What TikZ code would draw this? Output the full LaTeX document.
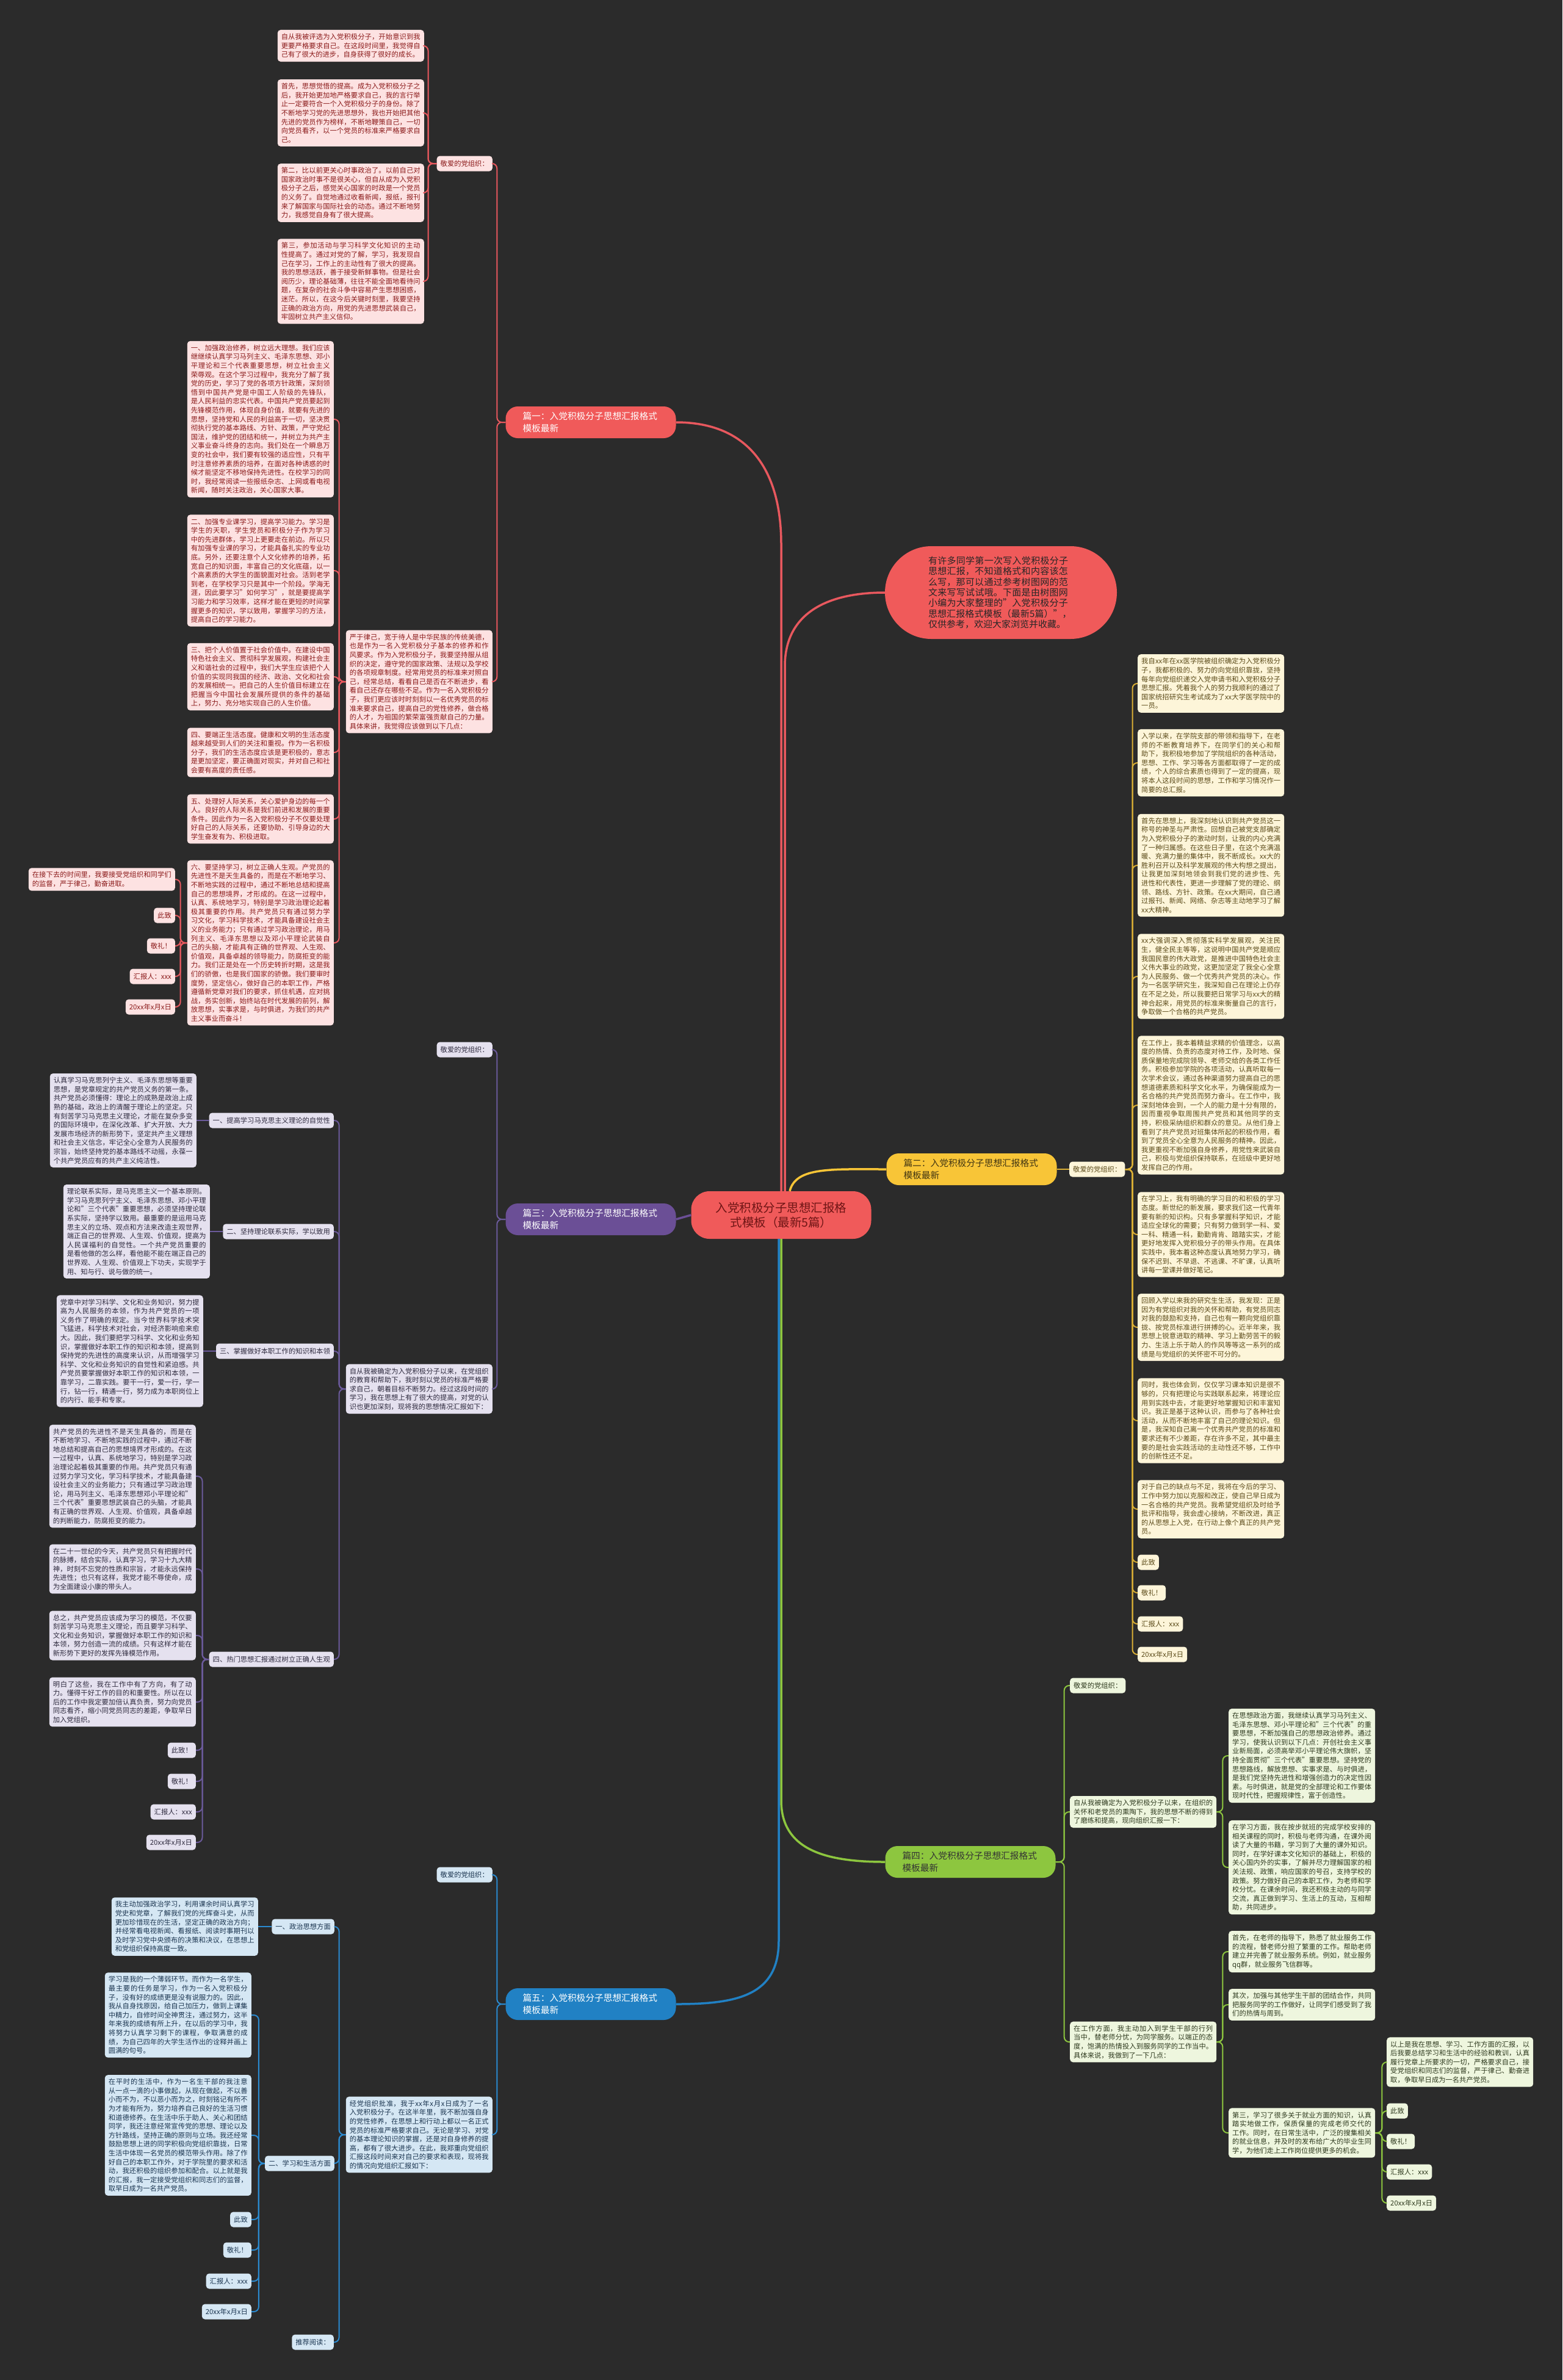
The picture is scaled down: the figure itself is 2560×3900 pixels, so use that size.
\documentclass[tikz,border=0pt]{standalone}
\usepackage{fontspec}
\setmainfont{Noto Sans CJK SC}
\usetikzlibrary{positioning}
\XeTeXlinebreaklocale "zh"
\XeTeXlinebreakskip = 0pt plus 1pt

\definecolor{bg}{HTML}{2B2B2B}
\definecolor{m1}{HTML}{F05A5A}\definecolor{f1}{HTML}{FDE2E2}\definecolor{t1}{HTML}{8B1A1A}\definecolor{l1}{HTML}{E8585E}
\definecolor{m2}{HTML}{F8C537}\definecolor{f2}{HTML}{FDF5D9}\definecolor{t2}{HTML}{5C4B1A}\definecolor{l2}{HTML}{D9AE35}
\definecolor{m3}{HTML}{6B4F96}\definecolor{f3}{HTML}{E5E1EF}\definecolor{t3}{HTML}{2E2A3E}\definecolor{l3}{HTML}{6B5A9B}
\definecolor{m4}{HTML}{8DC63F}\definecolor{f4}{HTML}{EEF6DE}\definecolor{t4}{HTML}{2F3A1F}\definecolor{l4}{HTML}{8DC63F}
\definecolor{m5}{HTML}{2181C4}\definecolor{f5}{HTML}{D5E7F4}\definecolor{t5}{HTML}{1B3550}\definecolor{l5}{HTML}{2A8AD0}

\newcommand\boxfont{\fontsize{11.3}{14.6}\selectfont}
\newcommand\branchfont{\fontsize{14.7}{19.5}\selectfont}
\newcommand\rootfont{\fontsize{19.5}{24.5}\selectfont}
\newcommand\introfont{\fontsize{15}{17.4}\selectfont}

\tikzset{
  textbox/.style={font=\boxfont, text width=228pt, align=justify, inner xsep=6pt, inner ysep=6pt, rounded corners=5pt},
  tag/.style={font=\boxfont, inner xsep=6pt, inner ysep=2pt, minimum height=25pt, rounded corners=5pt},
  branch/.style={font=\branchfont, text width=223pt, align=left, inner xsep=28pt, minimum height=52pt, rounded corners=20pt},
  box1/.style={textbox, fill=f1, text=t1}, tag1/.style={tag, fill=f1, text=t1},
  box2/.style={textbox, fill=f2, text=t2}, tag2/.style={tag, fill=f2, text=t2},
  box3/.style={textbox, fill=f3, text=t3}, tag3/.style={tag, fill=f3, text=t3},
  box4/.style={textbox, fill=f4, text=t4}, tag4/.style={tag, fill=f4, text=t4},
  box5/.style={textbox, fill=f5, text=t5}, tag5/.style={tag, fill=f5, text=t5},
  sub/.style={line width=2pt, rounded corners=8pt},
  main/.style={line width=3.5pt}
}

\begin{document}
\begin{tikzpicture}[x=1pt, y=-1pt]
    \fill[bg] (0,0) rectangle (2560,3900);
    \useasboundingbox (0,0) rectangle (2560,3900);

    % centre and intro
    \node[font=\rootfont, fill=m1, text=t1!80!black, align=center, minimum width=295pt, minimum height=78pt, rounded corners=30pt] (root) at (1280,1991)
        {入党积极分子思想汇报格\\式模板（最新5篇）};
    \node[font=\introfont, fill=m1, text=black!85, text width=238pt, align=left, inner xsep=71pt, minimum height=152pt, rounded corners=76pt] (intro) at (1640,971)
        {有许多同学第一次写入党积极分子思想汇报，不知道格式和内容该怎么写，那可以通过参考树图网的范文来写写试试哦。下面是由树图网小编为大家整理的"入党积极分子思想汇报格式模板（最新5篇）"，仅供参考，欢迎大家浏览并收藏。};

    \node[branch, fill=m1, text=white] (p1) at (968,692) {篇一：入党积极分子思想汇报格式\\模板最新};
    \node[branch, fill=m2, text=t2!70!black] (p2) at (1592,1916) {篇二：入党积极分子思想汇报格式\\模板最新};
    \node[branch, fill=m3, text=white] (p3) at (968,1998) {篇三：入党积极分子思想汇报格式\\模板最新};
    \node[branch, fill=m4, text=black!80] (p4) at (1590,3051) {篇四：入党积极分子思想汇报格式\\模板最新};
    \node[branch, fill=m5, text=white] (p5) at (968,3284) {篇五：入党积极分子思想汇报格式\\模板最新};

    \draw[main, l1] (root.north) -- ++(0,-1060) .. controls +(0,-120) and +(120,0) .. (p1.east);
    \draw[main, l1] ([xshift=6pt]root.north) -- ++(0,-860) .. controls +(0,-90) and +(-90,0) .. (intro.west);
    \draw[main, m2] ([xshift=14pt]root.north) .. controls +(10,-40) and +(-90,0) .. (p2.west);
    \draw[main, m3] (root.west) -- (p3.east);
    \draw[main, m4] (root.south) -- ++(0,920) .. controls +(0,80) and +(-100,0) .. (p4.west);
    \draw[main, m5] ([xshift=-4pt]root.south) -- ++(0,1150) .. controls +(0,90) and +(100,0) .. (p5.east);

    % 篇一
    \node[tag1, anchor=east] (d1) at (807,268) {敬爱的党组织：};
    \node[box1, anchor=east] (a1) at (695,75) {自从我被评选为入党积极分子，开始意识到我更要严格要求自己。在这段时间里，我觉得自己有了很大的进步，自身获得了很好的成长。};
    \node[box1, anchor=east] (a2) at (695,185) {首先，思想觉悟的提高。成为入党积极分子之后，我开始更加地严格要求自己，我的言行举止一定要符合一个入党积极分子的身份。除了不断地学习党的先进思想外，我也开始把其他先进的党员作为榜样，不断地鞭策自己，一切向党员看齐，以一个党员的标准来严格要求自己。};
    \node[box1, anchor=east] (a3) at (695,316) {第二，比以前更关心时事政治了。以前自己对国家政治时事不是很关心，但自从成为入党积极分子之后，感觉关心国家的时政是一个党员的义务了。自觉地通过收看新闻，报纸，报刊来了解国家与国际社会的动态。通过不断地努力，我感觉自身有了很大提高。};
    \node[box1, anchor=east] (a4) at (695,461) {第三，参加活动与学习科学文化知识的主动性提高了。通过对党的了解，学习，我发现自己在学习，工作上的主动性有了很大的提高。我的思想活跃，善于接受新鲜事物。但是社会阅历少，理论基础薄，往往不能全面地看待问题，在复杂的社会斗争中容易产生思想困惑，迷茫。所以，在这今后关键时刻里，我要坚持正确的政治方向，用党的先进思想武装自己，牢固树立共产主义信仰。};
    \node[box1, anchor=east] (g1) at (807,1117) {严于律己，宽于待人是中华民族的传统美德，也是作为一名入党积极分子基本的修养和作风要求。作为入党积极分子，我要坚持服从组织的决定，遵守党的国家政策、法规以及学校的各项规章制度。经常用党员的标准来对照自己，经常总结，看看自己是否在不断进步，看看自己还存在哪些不足。作为一名入党积极分子，我们更应该时时刻刻以一名优秀党员的标准来要求自己，提高自己的党性修养，做合格的人才，为祖国的繁荣富强贡献自己的力量。具体来讲，我觉得应该做到以下几点：};
    \node[box1, anchor=east] (s1) at (547,687) {一、加强政治修养，树立远大理想。我们应该继继续认真学习马列主义、毛泽东思想、邓小平理论和三个代表重要思想，树立社会主义荣辱观。在这个学习过程中，我充分了解了我党的历史，学习了党的各项方针政策，深刻领悟到中国共产党是中国工人阶级的先锋队，是人民利益的忠实代表。中国共产党员要起到先锋模范作用，体现自身价值，就要有先进的思想，坚持党和人民的利益高于一切，坚决贯彻执行党的基本路线、方针、政策，严守党纪国法，维护党的团结和统一，并树立为共产主义事业奋斗终身的志向。我们处在一个瞬息万变的社会中，我们要有较强的适应性，只有平时注意修养素质的培养，在面对各种诱惑的时候才能坚定不移地保持先进性。在校学习的同时，我经常阅读一些报纸杂志、上网或看电视新闻，随时关注政治，关心国家大事。};
    \node[box1, anchor=east] (s2) at (547,935) {二、加强专业课学习，提高学习能力。学习是学生的天职，学生党员和积极分子作为学习中的先进群体，学习上更要走在前边。所以只有加强专业课的学习，才能具备扎实的专业功底。另外，还要注意个人文化修养的培养，拓宽自己的知识面，丰富自己的文化底蕴，以一个高素质的大学生的面貌面对社会。活到老学到老，在学校学习只是其中一个阶段。学海无涯，因此要学习"如何学习"，就是要提高学习能力和学习效率，这样才能在更短的时间掌握更多的知识，学以致用，掌握学习的方法，提高自己的学习能力。};
    \node[box1, anchor=east] (s3) at (547,1109) {三、把个人价值置于社会价值中。在建设中国特色社会主义、贯彻科学发展观，构建社会主义和谐社会的过程中，我们大学生应该把个人价值的实现同我国的经济、政治、文化和社会的发展相统一。把自己的人生价值目标建立在把握当今中国社会发展所提供的条件的基础上，努力、充分地实现自己的人生价值。};
    \node[box1, anchor=east] (s4) at (547,1233) {四、要端正生活态度。健康和文明的生活态度越来越受到人们的关注和重视。作为一名积极分子，我们的生活态度应该是更积极的，意志是更加坚定，要正确面对现实，并对自己和社会要有高度的责任感。};
    \node[box1, anchor=east] (s5) at (547,1342) {五、处理好人际关系，关心爱护身边的每一个人。良好的人际关系是我们前进和发展的重要条件。因此作为一名入党积极分子不仅要处理好自己的人际关系，还要协助、引导身边的大学生奋发有为、积极进取。};
    \node[box1, anchor=east] (s6) at (547,1545) {六、要坚持学习，树立正确人生观。产党员的先进性不是天生具备的，而是在不断地学习、不断地实践的过程中，通过不断地总结和提高自己的思想境界，才形成的。在这一过程中，认真、系统地学习，特别是学习政治理论起着极其重要的作用。共产党员只有通过努力学习文化，学习科学技术，才能具备建设社会主义的业务能力；只有通过学习政治理论，用马列主义、毛泽东思想以及邓小平理论武装自己的头脑，才能具有正确的世界观、人生观、价值观，具备卓越的领导能力，防腐拒变的能力。我们正是处在一个历史转折时期，这是我们的骄傲，也是我们国家的骄傲。我们要审时度势，坚定信心，做好自己的本职工作，严格遵循新党章对我们的要求，抓住机遇，应对挑战，务实创新，始终站在时代发展的前列，解放思想，实事求是，与时俱进，为我们的共产主义事业而奋斗！};
    \node[box1, anchor=east] (e1) at (287,1441) {在接下去的时间里，我要接受党组织和同学们的监督，严于律己，勤奋进取。};
    \node[tag1, anchor=east] (e2) at (287,1500) {此致};
    \node[tag1, anchor=east] (e3) at (287,1550) {敬礼！};
    \node[tag1, anchor=east] (e4) at (287,1600) {汇报人：xxx};
    \node[tag1, anchor=east] (e5) at (287,1650) {20xx年x月x日};

    \foreach \n in {d1,g1} \draw[sub, l1] (p1.west) -- ++(-14,0) |- (\n.east);
    \foreach \n in {a1,a2,a3,a4} \draw[sub, l1] (d1.west) -- ++(-14,0) |- (\n.east);
    \foreach \n in {s1,s2,s3,s4,s5,s6} \draw[sub, l1] (g1.west) -- ++(-11,0) |- (\n.east);
    \foreach \n in {e1,e2,e3,e4,e5} \draw[sub, l1] (s6.west) -- ++(-11,0) |- (\n.east);

    % 篇二
    \node[tag2, anchor=west] (d2) at (1752,1916) {敬爱的党组织：};
    \node[box2, anchor=west] (b1) at (1864,1120) {我自xx年在xx医学院被组织确定为入党积极分子，我都积极的、努力的向党组织靠拢，坚持每年向党组织递交入党申请书和入党积极分子思想汇报。凭着我个人的努力我顺利的通过了国家统招研究生考试成为了xx大学医学院中的一员。};
    \node[box2, anchor=west] (b2) at (1864,1250) {入学以来，在学院支部的带领和指导下，在老师的不断教育培养下，在同学们的关心和帮助下，我积极地参加了学院组织的各种活动，思想、工作、学习等各方面都取得了一定的成绩，个人的综合素质也得到了一定的提高，现将本人这段时间的思想，工作和学习情况作一简要的总汇报。};
    \node[box2, anchor=west] (b3) at (1864,1418) {首先在思想上，我深刻地认识到共产党员这一称号的神圣与严肃性。回想自己被党支部确定为入党积极分子的激动时刻，让我的内心充满了一种归属感。在这些日子里，在这个充满温暖、充满力量的集体中，我不断成长。xx大的胜利召开以及科学发展观的伟大构想之提出，让我更加深刻地领会到我们党的进步性、先进性和代表性，更进一步理解了党的理论、纲领、路线、方针、政策。在xx大期间，自己通过报刊、新闻、网络、杂志等主动地学习了解xx大精神。};
    \node[box2, anchor=west] (b4) at (1864,1600) {xx大强调深入贯彻落实科学发展观，关注民生，健全民主等等，这说明中国共产党是顺应我国民意的伟大政党，是推进中国特色社会主义伟大事业的政党，这更加坚定了我全心全意为人民服务、做一个优秀共产党员的决心。作为一名医学研究生，我深知自己在理论上仍存在不足之处，所以我要把日常学习与xx大的精神合起来，用党员的标准来衡量自己的言行，争取做一个合格的共产党员。};
    \node[box2, anchor=west] (b5) at (1864,1811) {在工作上，我本着精益求精的价值理念，以高度的热情、负责的态度对待工作，及时地、保质保量地完成院领导、老师交给的各类工作任务。积极参加学院的各项活动，认真听取每一次学术会议，通过各种渠道努力提高自己的思想道德素质和科学文化水平，为确保能成为一名合格的共产党员而努力奋斗。在工作中，我深刻地体会到，一个人的能力是十分有限的，因而重视争取周围共产党员和其他同学的支持，积极采纳组织和群众的意见。从他们身上看到了共产党员对班集体所起的积极作用，看到了党员全心全意为人民服务的精神。因此，我更重视不断加强自身修养，用党性来武装自己，积极与党组织保持联系，在班级中更好地发挥自己的作用。};
    \node[box2, anchor=west] (b6) at (1864,2023) {在学习上，我有明确的学习目的和积极的学习态度。新世纪的新发展，要求我们这一代青年要有新的知识构。只有多掌握科学知识，才能适应全球化的需要；只有努力做到学一科、爱一科、精通一科，勤勤肯肯、踏踏实实，才能更好地发挥入党积极分子的带头作用。在具体实践中，我本着这种态度认真地努力学习，确保不迟到、不早退、不逃课、不旷课，认真听讲每一堂课并做好笔记。};
    \node[box2, anchor=west] (b7) at (1864,2175) {回顾入学以来我的研究生生活，我发现：正是因为有党组织对我的关怀和帮助，有党员同志对我的鼓励和支持，自己也有一颗向党组织靠拢、按党员标准进行拼搏的心。近半年来，我思想上锐意进取的精神、学习上勤劳苦干的毅力、生活上乐于助人的作风等等这一系列的成绩是与党组织的关怀密不可分的。};
    \node[box2, anchor=west] (b8) at (1864,2328) {同时，我也体会到，仅仅学习课本知识是很不够的，只有把理论与实践联系起来，将理论应用到实践中去，才能更好地掌握知识和丰富知识。我正是基于这种认识，而参与了各种社会活动，从而不断地丰富了自己的理论知识。但是，我深知自己离一个优秀共产党员的标准和要求还有不少差距，存在许多不足，其中最主要的是社会实践活动的主动性还不够，工作中的创新性还不足。};
    \node[box2, anchor=west] (b9) at (1864,2473) {对于自己的缺点与不足，我将在今后的学习、工作中努力加以克服和改正，使自己早日成为一名合格的共产党员。我希望党组织及时给予批评和指导，我会虚心接纳，不断改进，真正的从思想上入党，在行动上像个真正的共产党员。};
    \node[tag2, anchor=west] (b10) at (1864,2560) {此致};
    \node[tag2, anchor=west] (b11) at (1864,2610) {敬礼！};
    \node[tag2, anchor=west] (b12) at (1864,2661) {汇报人：xxx};
    \node[tag2, anchor=west] (b13) at (1864,2711) {20xx年x月x日};

    \draw[sub, l2] (p2.east) -- (d2.west);
    \foreach \n in {b1,b2,b3,b4,b5,b6,b7,b8,b9,b10,b11,b12,b13} \draw[sub, l2] (d2.east) -- ++(12,0) |- (\n.west);

    % 篇三
    \node[tag3, anchor=east] (d3) at (807,1720) {敬爱的党组织：};
    \node[box3, anchor=east] (g3) at (807,2276) {自从我被确定为入党积极分子以来，在党组织的教育和帮助下，我时刻以党员的标准严格要求自己，朝着目标不断努力。经过这段时间的学习，我在思想上有了很大的提高，对党的认识也更加深刻，现将我的思想情况汇报如下：};
    \node[tag3, anchor=east] (k1) at (547,1836) {一、提高学习马克思主义理论的自觉性};
    \node[tag3, anchor=east] (k2) at (547,2018) {二、坚持理论联系实际，学以致用};
    \node[tag3, anchor=east] (k3) at (547,2214) {三、掌握做好本职工作的知识和本领};
    \node[tag3, anchor=east] (k4) at (547,2719) {四、热门思想汇报通过树立正确人生观};
    \node[box3, anchor=east] (c1) at (322,1836) {认真学习马克思列宁主义、毛泽东思想等重要思想，是党章规定的共产党员义务的第一条。共产党员必须懂得：理论上的成熟是政治上成熟的基础，政治上的清醒于理论上的坚定。只有刻苦学习马克思主义理论，才能在复杂多变的国际环境中，在深化改革、扩大开放、大力发展市场经济的新形势下，坚定共产主义理想和社会主义信念，牢记全心全意为人民服务的宗旨，始终坚持党的基本路线不动摇，永葆一个共产党员应有的共产主义纯洁性。};
    \node[box3, anchor=east] (c2) at (344,2018) {理论联系实际，是马克思主义一个基本原则。学习马克思列宁主义、毛泽东思想、邓小平理论和"三个代表"重要思想，必须坚持理论联系实际，坚持学以致用。最重要的是运用马克思主义的立场、观点和方法来改造主观世界，端正自己的世界观、人生观、价值观，提高为人民谋福利的自觉性。一个共产党员重要的是看他做的怎么样，看他能不能在端正自己的世界观、人生观、价值观上下功夫，实现学于用、知与行、说与做的统一。};
    \node[box3, anchor=east] (c3) at (333,2214) {党章中对学习科学、文化和业务知识，努力提高为人民服务的本领，作为共产党员的一项义务作了明确的规定。当今世界科学技术突飞猛进，科学技术对社会，对经济影响愈来愈大。因此，我们要把学习科学、文化和业务知识，掌握做好本职工作的知识和本领，提高到保持党的先进性的高度来认识，从而增强学习科学、文化和业务知识的自觉性和紧迫感。共产党员要掌握做好本职工作的知识和本领，一靠学习，二靠实践。要干一行，爱一行，学一行，钻一行，精通一行，努力成为本职岗位上的内行、能手和专家。};
    \node[box3, anchor=east] (c4) at (321,2419) {共产党员的先进性不是天生具备的，而是在不断地学习、不断地实践的过程中，通过不断地总结和提高自己的思想境界才形成的。在这一过程中，认真、系统地学习，特别是学习政治理论起着极其重要的作用。共产党员只有通过努力学习文化，学习科学技术，才能具备建设社会主义的业务能力；只有通过学习政治理论，用马列主义、毛泽东思想邓小平理论和"三个代表"重要思想武装自己的头脑，才能具有正确的世界观、人生观、价值观，具备卓越的判断能力，防腐拒变的能力。};
    \node[box3, anchor=east] (c5) at (321,2571) {在二十一世纪的今天，共产党员只有把握时代的脉搏，结合实际，认真学习，学习十九大精神，时刻不忘党的性质和宗旨，才能永远保持先进性；也只有这样，我党才能不辱使命，成为全面建设小康的带头人。};
    \node[box3, anchor=east] (c6) at (321,2680) {总之，共产党员应该成为学习的模范，不仅要刻苦学习马克思主义理论，而且要学习科学、文化和业务知识，掌握做好本职工作的知识和本领，努力创造一流的成绩。只有这样才能在新形势下更好的发挥先锋模范作用。};
    \node[box3, anchor=east] (c7) at (321,2789) {明白了这些，我在工作中有了方向，有了动力。懂得干好工作的目的和重要性。所以在以后的工作中我定要加倍认真负责，努力向党员同志看齐，缩小同党员同志的差距，争取早日加入党组织。};
    \node[tag3, anchor=east] (c8) at (321,2868) {此致！};
    \node[tag3, anchor=east] (c9) at (321,2919) {敬礼！};
    \node[tag3, anchor=east] (c10) at (321,2969) {汇报人：xxx};
    \node[tag3, anchor=east] (c11) at (321,3019) {20xx年x月x日};

    \foreach \n in {d3,g3} \draw[sub, l3] (p3.west) -- ++(-14,0) |- (\n.east);
    \foreach \n in {k1,k2,k3,k4} \draw[sub, l3] (g3.west) -- ++(-11,0) |- (\n.east);
    \draw[sub, l3] (k1.west) -- (c1.east);
    \draw[sub, l3] (k2.west) -- (c2.east);
    \draw[sub, l3] (k3.west) -- (c3.east);
    \foreach \n in {c4,c5,c6,c7,c8,c9,c10,c11} \draw[sub, l3] (k4.west) -- ++(-11,0) |- (\n.east);

    % 篇四
    \node[tag4, anchor=west] (d4) at (1753,2762) {敬爱的党组织：};
    \node[box4, anchor=west] (h1) at (1753,2969) {自从我被确定为入党积极分子以来，在组织的关怀和老党员的熏陶下，我的思想不断的得到了磨练和提高，现向组织汇报一下：};
    \node[box4, anchor=west] (h2) at (1753,3346) {在工作方面，我主动加入到学生干部的行列当中，替老师分忧，为同学服务。以端正的态度，饱满的热情投入到服务同学的工作当中。具体来说，我做到了一下几点：};
    \node[box4, anchor=west] (i1) at (2013,2877) {在思想政治方面，我继续认真学习马列主义、毛泽东思想、邓小平理论和"三个代表"的重要思想，不断加强自己的思想政治修养。通过学习，使我认识到以下几点：开创社会主义事业新局面，必须高举邓小平理论伟大旗帜，坚持全面贯彻"三个代表"重要思想。坚持党的思想路线，解放思想、实事求是、与时俱进，是我们党坚持先进性和增强创造力的决定性因素。与时俱进，就是党的全部理论和工作要体现时代性，把握规律性，富于创造性。};
    \node[box4, anchor=west] (i2) at (2013,3060) {在学习方面，我在按步就班的完成学校安排的相关课程的同时，积极与老师沟通，在课外阅读了大量的书籍，学习到了大量的课外知识。同时，在学好课本文化知识的基础上，积极的关心国内外的实事，了解并尽力理解国家的相关法规、政策，响应国家的号召，支持学校的政策。努力做好自己的本职工作，为老师和学校分忧。在课余时间，我还积极主动的与同学交流，真正做到学习、生活上的互动，互相帮助，共同进步。};
    \node[box4, anchor=west] (i3) at (2013,3198) {首先，在老师的指导下，熟悉了就业服务工作的流程，替老师分担了繁重的工作。帮助老师建立并完善了就业服务系统。例如，就业服务qq群，就业服务飞信群等。};
    \node[box4, anchor=west] (i4) at (2013,3285) {其次，加强与其他学生干部的团结合作，共同把服务同学的工作做好，让同学们感受到了我们的热情与周到。};
    \node[box4, anchor=west] (i5) at (2013,3495) {第三，学习了很多关于就业方面的知识，认真踏实地做工作，保质保量的完成老师交代的工作。同时，在日常生活中，广泛的搜集相关的就业信息，并及时的发布给广大的毕业生同学，为他们走上工作岗位提供更多的机会。};
    \node[box4, anchor=west] (j1) at (2272,3379) {以上是我在思想、学习、工作方面的汇报，以后我要总结学习和生活中的经验和教训，认真履行党章上所要求的一切，严格要求自己，接受党组织和同志们的监督，严于律己、勤奋进取，争取早日成为一名共产党员。};
    \node[tag4, anchor=west] (j2) at (2272,3459) {此致};
    \node[tag4, anchor=west] (j3) at (2272,3509) {敬礼！};
    \node[tag4, anchor=west] (j4) at (2272,3559) {汇报人：xxx};
    \node[tag4, anchor=west] (j5) at (2272,3610) {20xx年x月x日};

    \foreach \n in {d4,h1,h2} \draw[sub, l4] (p4.east) -- ++(14,0) |- (\n.west);
    \foreach \n in {i1,i2} \draw[sub, l4] (h1.east) -- ++(10,0) |- (\n.west);
    \foreach \n in {i3,i4,i5} \draw[sub, l4] (h2.east) -- ++(10,0) |- (\n.west);
    \foreach \n in {j1,j2,j3,j4,j5} \draw[sub, l4] (i5.east) -- ++(11,0) |- (\n.west);

    % 篇五
    \node[tag5, anchor=east] (d5) at (807,3072) {敬爱的党组织：};
    \node[box5, anchor=east] (g5) at (807,3498) {经党组织批准，我于xx年x月x日成为了一名入党积极分子。在这半年里，我不断加强自身的党性修养，在思想上和行动上都以一名正式党员的标准严格要求自己。无论是学习、对党的基本理论知识的掌握，还是对自身修养的提高，都有了很大进步。在此，我郑重向党组织汇报这段时间来对自己的要求和表现，现将我的情况向党组织汇报如下：};
    \node[tag5, anchor=east] (n1) at (548,3157) {一、政治思想方面};
    \node[tag5, anchor=east] (n2) at (548,3545) {二、学习和生活方面};
    \node[tag5, anchor=east] (n3) at (547,3838) {推荐阅读：};
    \node[box5, anchor=east] (q1) at (423,3157) {我主动加强政治学习，利用课余时间认真学习党史和党章，了解我们党的光辉奋斗史，从而更加珍惜现在的生活，坚定正确的政治方向；并经常看电视新闻、看报纸、阅读时事期刊以及时学习党中央颁布的决策和决议，在思想上和党组织保持高度一致。};
    \node[box5, anchor=east] (q2) at (412,3302) {学习是我的一个薄弱环节。而作为一名学生，最主要的任务是学习，作为一名入党积极分子，没有好的成绩更是没有说服力的。因此，我从自身找原因，给自己加压力，做到上课集中精力，自修时间全神贯注，通过努力，这半年来我的成绩有所上升，在以后的学习中，我将努力认真学习剩下的课程，争取满意的成绩，为自己四年的大学生活作出的诠释并画上圆满的句号。};
    \node[box5, anchor=east] (q3) at (412,3499) {在平时的生活中，作为一名生干部的我注意从一点一滴的小事做起，从现在做起，不以善小而不为，不以恶小而为之，时刻铭记有所不为才能有所为，努力培养自己良好的生活习惯和道德修养。在生活中乐于助人、关心和团结同学，我还注意经常宣传党的思想、理论以及方针路线，坚持正确的原则与立场。我还经常鼓励思想上进的同学积极向党组织靠拢，日常生活中体现一名党员的模范带头作用。除了作好自己的本职工作外，对于学院里的要求和活动，我还积极的组织参加和配合。以上就是我的汇报，我一定接受党组织和同志们的监督，取早日成为一名共产党员。};
    \node[tag5, anchor=east] (q4) at (412,3637) {此致};
    \node[tag5, anchor=east] (q5) at (412,3687) {敬礼！};
    \node[tag5, anchor=east] (q6) at (412,3738) {汇报人：xxx};
    \node[tag5, anchor=east] (q7) at (412,3788) {20xx年x月x日};

    \foreach \n in {d5,g5} \draw[sub, l5] (p5.west) -- ++(-14,0) |- (\n.east);
    \foreach \n in {n1,n2,n3} \draw[sub, l5] (g5.west) -- ++(-11,0) |- (\n.east);
    \draw[sub, l5] (n1.west) -- (q1.east);
    \foreach \n in {q2,q3,q4,q5,q6,q7} \draw[sub, l5] (n2.west) -- ++(-10,0) |- (\n.east);
\end{tikzpicture}
\end{document}
